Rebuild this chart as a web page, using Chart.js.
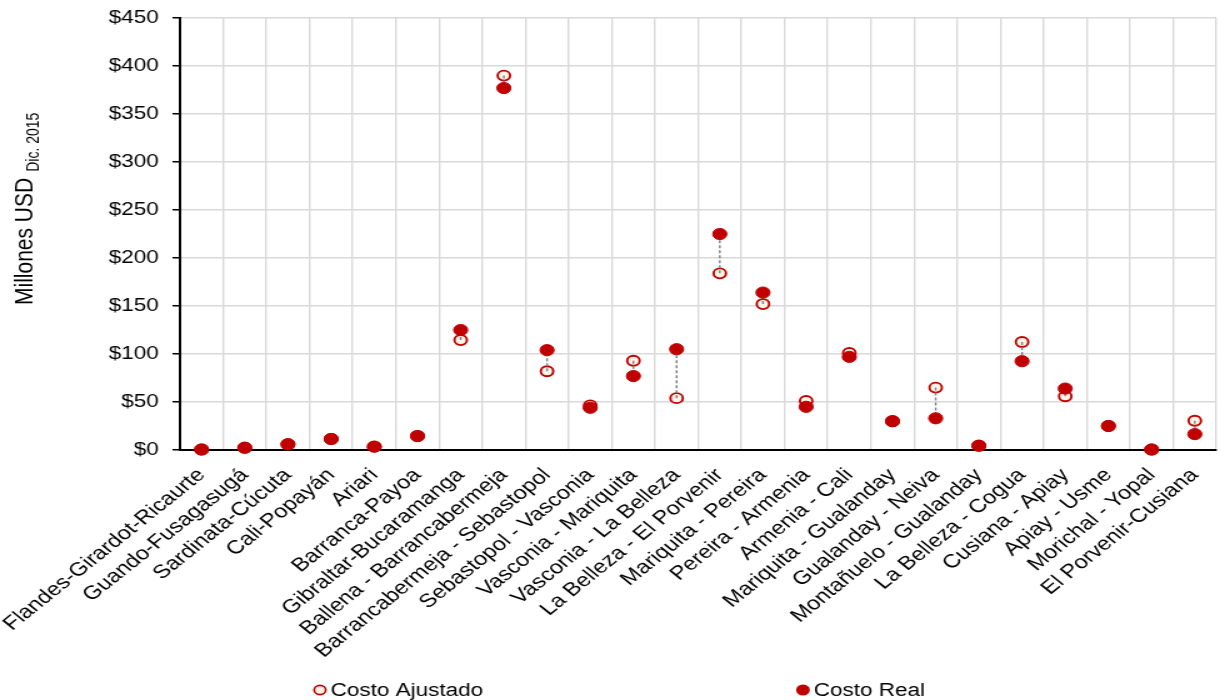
<!DOCTYPE html>
<html>
<head>
<meta charset="utf-8">
<script src="https://cdn.jsdelivr.net/npm/chart.js@4.4.1/dist/chart.umd.min.js"></script>
<style>
  html, body { margin: 0; padding: 0; background: #fff; overflow: hidden; width: 1221px; height: 700px; }
  #wrap { position: absolute; left: 0; top: 0; width: 980px; height: 700px; transform: scaleX(1.25); transform-origin: 0 0; }
  canvas { display: block; }
</style>
</head>
<body>
<div id="wrap"><canvas id="chart" width="980" height="700"></canvas></div>
<script>
// Tramos (categorías del eje X)
const categories = [
  'Flandes-Girardot-Ricaurte', 'Guando-Fusagasugá', 'Sardinata-Cúcuta', 'Cali-Popayán',
  'Ariari', 'Barranca-Payoa', 'Gibraltar-Bucaramanga', 'Ballena - Barrancabermeja',
  'Barrancabermeja - Sebastopol', 'Sebastopol - Vasconia', 'Vasconia - Mariquita',
  'Vasconia - La Belleza', 'La Belleza - El Porvenir', 'Mariquita - Pereira',
  'Pereira - Armenia', 'Armenia - Cali', 'Mariquita - Gualanday', 'Gualanday - Neiva',
  'Montañuelo - Gualanday', 'La Belleza - Cogua', 'Cusiana - Apiay', 'Apiay - Usme',
  'Morichal - Yopal', 'El Porvenir-Cusiana'
];

// Millones USD (Dic. 2015)
const costoAjustado = [0.5, 2.4, 6, 11.5, 3.5, 14.5, 114.5, 390, 82, 46.5, 93, 54,
                       184, 152, 51, 101, 30, 65, 4.5, 112.5, 56, 25, 0.5, 30.5];
const costoReal     = [0.5, 2.4, 6, 11.5, 3.5, 14.5, 125, 377, 104, 44, 77, 105,
                       225, 164, 45, 97, 30, 33, 4.5, 92.5, 64, 25, 0.5, 16.5];

const yTickValues = [0, 50, 100, 150, 200, 250, 300, 350, 400, 450];

const RED = '#c00000';
const CREAM = '#fdf5e8';
const FONT = "'Liberation Sans', Arial, sans-serif";
Chart.defaults.font.family = FONT;
Chart.defaults.color = '#000';

// Dashed link between the adjusted and the real cost of each segment
const connectors = {
  id: 'connectors',
  beforeDatasetDraw(chart, args) {
    if (args.index !== 1) return;
    const xs = chart.scales.x, ys = chart.scales.y, ctx = chart.ctx;
    ctx.save();
    ctx.strokeStyle = '#7f7f7f';
    ctx.lineWidth = 1.4;
    ctx.setLineDash([3, 2]);
    costoReal.forEach((r, i) => {
      const a = costoAjustado[i];
      if (a === r) return;
      const px = xs.getPixelForValue(i);
      ctx.beginPath();
      ctx.moveTo(px, ys.getPixelForValue(a));
      ctx.lineTo(px, ys.getPixelForValue(r));
      ctx.stroke();
    });
    ctx.restore();
  }
};

// Y-axis title with subscript
const yTitle = {
  id: 'yTitle',
  afterDraw(chart) {
    const ctx = chart.ctx;
    ctx.save();
    ctx.translate(25.6, 305);
    ctx.rotate(-Math.PI / 2);
    ctx.fillStyle = '#000';
    ctx.textAlign = 'left';
    ctx.textBaseline = 'alphabetic';
    ctx.font = `21px ${FONT}`;
    const main = 'Millones USD';
    ctx.fillText(main, 0, 0);
    const w = ctx.measureText(main).width;
    ctx.font = `14px ${FONT}`;
    ctx.fillText('Dic. 2015', w + 6, 5);
    ctx.restore();
  }
};

// Bottom legend with the two marker styles
const bottomLegend = {
  id: 'bottomLegend',
  afterDraw(chart) {
    const ctx = chart.ctx;
    const y = 690;
    const items = [
      { label: chart.data.datasets[0].label, cx: chart.width * 0.2612, hollow: true },
      { label: chart.data.datasets[1].label, cx: chart.width * 0.6555, hollow: false }
    ];
    ctx.save();
    items.forEach(it => {
      ctx.beginPath();
      if (it.hollow) {
        ctx.arc(it.cx, y, 4.6, 0, Math.PI * 2);
        ctx.fillStyle = CREAM; ctx.fill();
        ctx.lineWidth = 1.7; ctx.strokeStyle = RED; ctx.stroke();
      } else {
        ctx.arc(it.cx, y, 5.5, 0, Math.PI * 2);
        ctx.fillStyle = RED; ctx.fill();
      }
      ctx.fillStyle = '#000';
      ctx.font = `18px ${FONT}`;
      ctx.textAlign = 'left';
      ctx.textBaseline = 'middle';
      ctx.fillText(it.label, it.cx + 8.5, y + 1);
    });
    ctx.restore();
  }
};

new Chart(document.getElementById('chart'), {
  type: 'line',
  data: {
    labels: categories,
    datasets: [
      {
        label: 'Costo Ajustado',
        data: costoAjustado,
        showLine: false,
        pointStyle: 'circle',
        pointRadius: 5,
        pointBorderWidth: 1.9,
        pointBackgroundColor: CREAM,
        pointBorderColor: RED,
        order: 1,
        clip: false
      },
      {
        label: 'Costo Real',
        data: costoReal,
        showLine: false,
        pointStyle: 'circle',
        pointRadius: 5.6,
        pointBorderWidth: 1,
        pointBackgroundColor: RED,
        pointBorderColor: RED,
        order: 0,
        clip: false
      }
    ]
  },
  options: {
    responsive: false,
    animation: false,
    devicePixelRatio: 1,
    layout: { padding: { top: 18, left: 0, right: 0, bottom: 0 } },
    plugins: { legend: { display: false }, tooltip: { enabled: false } },
    scales: {
      x: {
        offset: true,
        grid: { offset: true, color: '#d9d9d9', lineWidth: 1.4, drawTicks: false },
        border: { color: '#000', width: 2 },
        ticks: { autoSkip: false, minRotation: 45, maxRotation: 45, padding: 14,
                 font: { size: 19 }, color: '#000' },
        afterFit(s) { s.height = 250; s.paddingLeft = 0; s.paddingRight = 0; }
      },
      y: {
        min: 0,
        max: 450,
        afterBuildTicks(s) { s.ticks = yTickValues.map(v => ({ value: v })); },
        ticks: { padding: 11, font: { size: 18 }, color: '#000', callback: v => '$' + v },
        grid: { color: '#d9d9d9', lineWidth: 1.5, tickLength: 6, tickColor: '#000' },
        border: { color: '#000', width: 2 },
        afterFit(s) { s.width = 144; s.paddingTop = 0; s.paddingBottom = 0; }
      }
    }
  },
  plugins: [connectors, yTitle, bottomLegend]
});
</script>
</body>
</html>
